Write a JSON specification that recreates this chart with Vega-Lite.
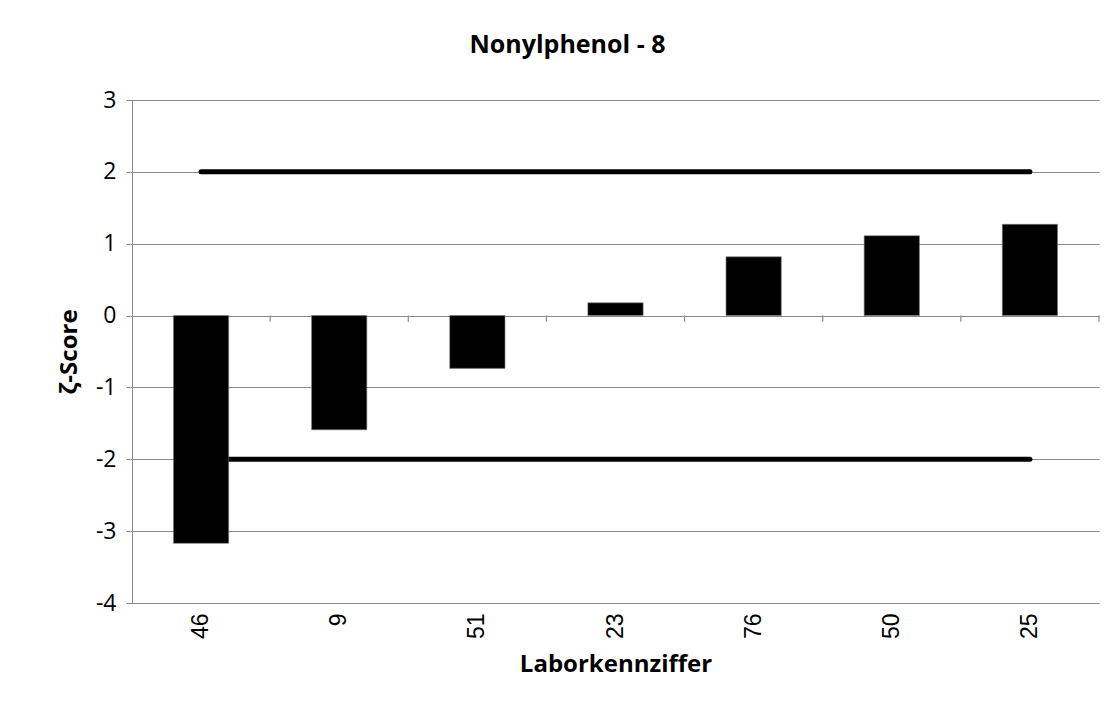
{
  "$schema": "https://vega.github.io/schema/vega-lite/v6.json",
  "width": 967,
  "height": 503,
  "autosize": "none",
  "padding": {"left": 132, "top": 100, "right": 18, "bottom": 105},
  "background": "white",
  "title": {
    "text": "Nonylphenol - 8",
    "font": "Open Sans",
    "fontSize": 25,
    "fontWeight": "bold",
    "color": "black",
    "anchor": "middle",
    "dx": -48,
    "offset": 31
  },
  "datasets": {
    "bars": [
      {"lab": "46", "score": -3.17},
      {"lab": "9", "score": -1.59},
      {"lab": "51", "score": -0.735},
      {"lab": "23", "score": 0.177},
      {"lab": "76", "score": 0.817},
      {"lab": "50", "score": 1.11},
      {"lab": "25", "score": 1.27}
    ],
    "limits": [
      {"lab": "46", "limit": 2, "grp": "upper"},
      {"lab": "25", "limit": 2, "grp": "upper"},
      {"lab": "46", "limit": -2, "grp": "lower"},
      {"lab": "25", "limit": -2, "grp": "lower"}
    ]
  },
  "config": {
    "view": {"stroke": null},
    "axis": {"labelColor": "black", "titleColor": "black"}
  },
  "encoding": {
    "x": {
      "field": "lab",
      "type": "nominal",
      "sort": ["46", "9", "51", "23", "76", "50", "25"],
      "scale": {"paddingInner": 0, "paddingOuter": 0},
      "axis": {
        "title": "Laborkennziffer",
        "titleFont": "Open Sans",
        "titleFontSize": 24,
        "titleFontWeight": "bold",
        "titlePadding": 14,
        "labelFont": "Liberation Sans",
        "labelFontSize": 23,
        "labelAngle": -90,
        "labelPadding": 10,
        "domain": false,
        "ticks": false,
        "grid": false
      }
    }
  },
  "layer": [
    {
      "data": {"name": "limits"},
      "mark": {"type": "line", "color": "black", "strokeWidth": 5, "strokeCap": "round"},
      "encoding": {
        "y": {
          "field": "limit",
          "type": "quantitative",
          "scale": {"domain": [-4, 3], "nice": false, "zero": false},
          "axis": {
            "title": "ζ-Score",
            "titleFont": "Open Sans",
            "titleFontSize": 24,
            "titleFontWeight": "bold",
            "titlePadding": 14,
            "labelFont": "Open Sans",
            "labelFontSize": 23,
            "labelPadding": 10,
            "labelExpr": "'' + datum.value",
            "values": [-4, -3, -2, -1, 0, 1, 2, 3],
            "tickSize": 6,
            "tickColor": "#898989",
            "domainColor": "#898989",
            "gridColor": "#898989",
            "gridWidth": 1.2,
            "grid": true
          }
        },
        "detail": {"field": "grp"}
      }
    },
    {
      "data": {"name": "bars"},
      "mark": {"type": "bar", "color": "black", "width": {"band": 0.4}, "stroke": "#7a7a7a", "strokeWidth": 0.6},
      "encoding": {
        "y": {"field": "score", "type": "quantitative"}
      }
    },
    {
      "data": {"name": "bars"},
      "mark": {"type": "rule", "color": "#898989", "strokeWidth": 1.2},
      "encoding": {
        "x": {"field": "lab", "type": "nominal", "sort": ["46", "9", "51", "23", "76", "50", "25"], "bandPosition": 1},
        "y": {"datum": 0},
        "y2": {"datum": -0.085}
      }
    }
  ]
}
